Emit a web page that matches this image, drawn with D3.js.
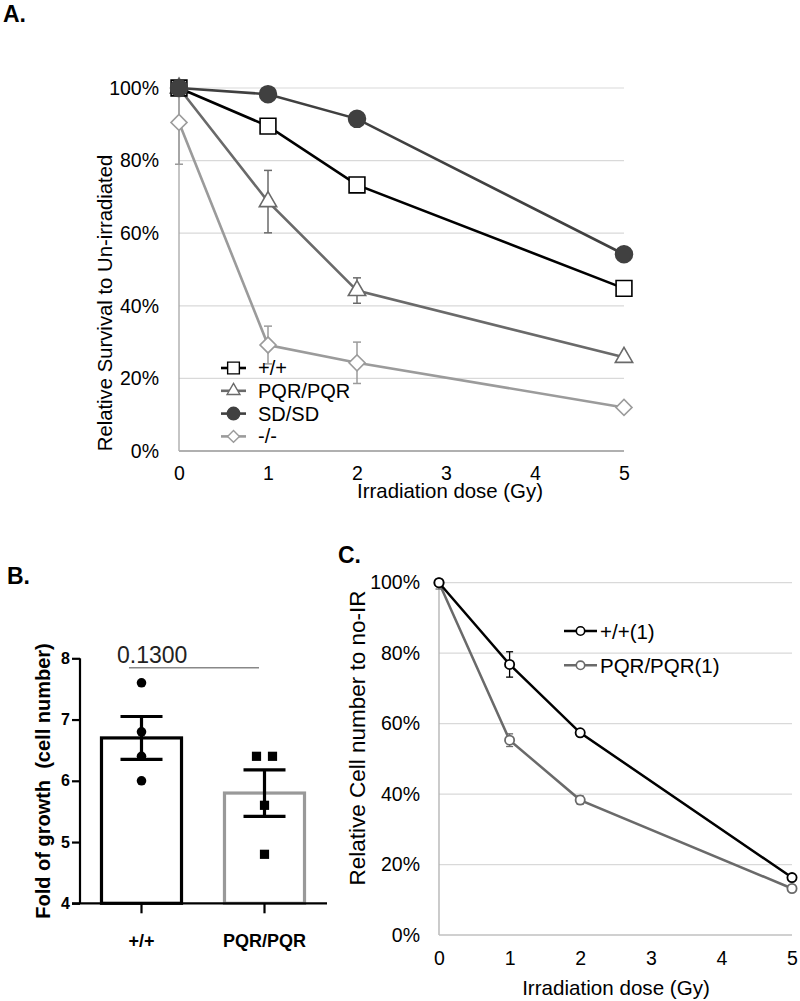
<!DOCTYPE html>
<html><head><meta charset="utf-8">
<script src="https://cdn.jsdelivr.net/npm/d3@7"></script>
<style>
html,body{margin:0;padding:0;background:#fff;}
svg{display:block;font-family:"Liberation Sans",Arial,sans-serif;}
</style></head>
<body>
<svg id="chart" width="800" height="1001"></svg>
<script>
// ---------- Panel A data ----------
const doses = [0, 1, 2, 5];
const doseTicks = [0, 1, 2, 3, 4, 5];
const pctTicks = [0, 20, 40, 60, 80, 100];
const seriesA = ["+/+", "PQR/PQR", "SD/SD", "-/-"];
const wtA = [100, 89.5, 73.3, 44.8];
const wtAErr = [0.5, 0.5, 0.5, 0.5];
const pqrA = [100, 68.7, 44.2, 25.8];
const pqrAErr = [0.5, 8.6, 3.5, 1.0];
const sdA = [100, 98.3, 91.5, 54.2];
const sdAErr = [0.5, 0.5, 0.5, 0.5];
const koA = [90.5, 29.2, 24.3, 12.0];
const koAErr = [11.5, 5.2, 5.7, 1.0];

// ---------- Panel B data ----------
const groupsB = ["+/+", "PQR/PQR"];
const meansB = [6.70, 5.80];
const semB = [0.35, 0.38];
const pointsWtB = [7.6, 6.8, 6.4, 6.0];
const pointsPqrB = [6.4, 6.4, 5.6, 4.8];
const ticksB = [4, 5, 6, 7, 8];
const pValueB = "0.1300";

// ---------- Panel C data ----------
const seriesC = ["+/+(1)", "PQR/PQR(1)"];
const wtC = [100, 76.8, 57.4, 16.3];
const wtCErr = [0.5, 3.6, 0.8, 0.5];
const pqrC = [100, 55.3, 38.3, 13.2];
const pqrCErr = [1.8, 1.8, 1.2, 0.5];

const svg = d3.select("#chart");
const FONT = '"Liberation Sans",Arial,sans-serif';

// Panel letters
[["A.", 3, 22], ["B.", 7, 584], ["C.", 338, 563]].forEach(([t, x, y]) => {
  svg.append("text").attr("x", x).attr("y", y).attr("font-size", 23)
    .attr("font-weight", "bold").text(t);
});

// ================= PANEL A =================
const xA = d3.scaleLinear().domain([0, 5]).range([179, 624]);
const yA = d3.scaleLinear().domain([0, 100]).range([451, 88]);
const gA = svg.append("g");

gA.append("g").selectAll("line").data(pctTicks.filter(d => d > 0)).join("line")
  .attr("x1", xA(0)).attr("x2", xA(5)).attr("y1", d => yA(d)).attr("y2", d => yA(d))
  .attr("stroke", "#d9d9d9").attr("stroke-width", 1.2);
gA.append("line").attr("x1", xA(0)).attr("x2", xA(0)).attr("y1", yA(0)).attr("y2", yA(100))
  .attr("stroke", "#a6a6a6").attr("stroke-width", 1.3);
gA.append("line").attr("x1", xA(0)).attr("x2", xA(5)).attr("y1", yA(0)).attr("y2", yA(0))
  .attr("stroke", "#b0b0b0").attr("stroke-width", 2);

const yAxA = gA.append("g").attr("transform", `translate(${159},0)`)
  .call(d3.axisLeft(yA).tickValues(pctTicks).tickSize(0).tickPadding(0).tickFormat(d => d + "%"));
yAxA.select(".domain").remove();
yAxA.selectAll("text").attr("font-size", 19.5).attr("font-family", FONT).attr("fill", "#000");

const xAxA = gA.append("g").attr("transform", `translate(0,${466})`)
  .call(d3.axisBottom(xA).tickValues(doseTicks).tickSize(0).tickPadding(0).tickFormat(d3.format("d")));
xAxA.select(".domain").remove();
xAxA.selectAll("text").attr("font-size", 19.5).attr("font-family", FONT).attr("fill", "#000");

gA.append("text").attr("x", 450).attr("y", 498).attr("text-anchor", "middle")
  .attr("font-size", 20.4).text("Irradiation dose (Gy)");
gA.append("text").attr("transform", `translate(112,303) rotate(-90)`).attr("text-anchor", "middle")
  .attr("font-size", 20.3).text("Relative Survival to Un-irradiated");

const symSquare = d3.symbol().type(d3.symbolSquare);
const symTri = d3.symbol().type(d3.symbolTriangle);
const symCirc = d3.symbol().type(d3.symbolCircle);

const defsA = [
  { name: seriesA[0], vals: wtA, err: wtAErr, color: "#000000", marker: "square", fill: "#fff", size: 250 },
  { name: seriesA[1], vals: pqrA, err: pqrAErr, color: "#6a6a6a", marker: "triangle", fill: "#fff", size: 130 },
  { name: seriesA[2], vals: sdA, err: sdAErr, color: "#404040", marker: "circle", fill: "#404040", size: 225 },
  { name: seriesA[3], vals: koA, err: koAErr, color: "#9b9b9b", marker: "diamond", fill: "#fff", size: 128 }
];

function markerPath(type, size) {
  if (type === "square" || type === "diamond") return symSquare.size(size)();
  if (type === "triangle") return symTri.size(size)();
  return symCirc.size(size)();
}

const lineA = d3.line().x((d, i) => xA(doses[i])).y(d => yA(d));
const orderA = [3, 1, 0, 2];
orderA.forEach(k => {
  const s = defsA[k];
  const g = gA.append("g");
  s.vals.forEach((v, i) => {
    const e = s.err[i];
    if (e <= 0) return;
    const x = xA(doses[i]);
    g.append("line").attr("x1", x).attr("x2", x).attr("y1", yA(v - e)).attr("y2", yA(Math.min(v + e, 100.5)))
      .attr("stroke", s.color).attr("stroke-width", 1.5);
    [v - e, v + e].forEach(yy => {
      if (yy > 100.5) return;
      g.append("line").attr("x1", x - 4).attr("x2", x + 4).attr("y1", yA(yy)).attr("y2", yA(yy))
        .attr("stroke", s.color).attr("stroke-width", 1.5);
    });
  });
  g.append("path").datum(s.vals).attr("d", lineA).attr("fill", "none")
    .attr("stroke", s.color).attr("stroke-width", 2.6);
  g.selectAll("path.m").data(s.vals).join("path").attr("class", "m")
    .attr("d", markerPath(s.marker, s.size))
    .attr("transform", (d, i) => `translate(${xA(doses[i])},${yA(d)})` + (s.marker === "diamond" ? " rotate(45)" : ""))
    .attr("fill", s.fill).attr("stroke", s.color).attr("stroke-width", 1.6);
});

const legA = gA.append("g");
defsA.forEach((s, i) => {
  const y = 368 + i * 22.8;
  legA.append("line").attr("x1", 221).attr("x2", 246).attr("y1", y).attr("y2", y)
    .attr("stroke", s.color).attr("stroke-width", 2.6);
  legA.append("path").attr("d", markerPath(s.marker, s.size * 0.55))
    .attr("transform", `translate(233.5,${y})` + (s.marker === "diamond" ? " rotate(45)" : ""))
    .attr("fill", s.fill).attr("stroke", s.color).attr("stroke-width", 1.4);
  legA.append("text").attr("x", 258).attr("y", y + 7).attr("font-size", 20).text(s.name);
});

// ================= PANEL B =================
const xB = d3.scaleBand().domain(groupsB).range([80, 326]).paddingInner(0.325).paddingOuter(0.1625);
const yB = d3.scaleLinear().domain([4, 8]).range([903.3, 658.3]);
const gB = svg.append("g");
const barColors = ["#000000", "#999999"];

gB.selectAll("rect.bar").data(groupsB).join("rect").attr("class", "bar")
  .attr("x", d => xB(d) + 1.5).attr("width", xB.bandwidth() - 3)
  .attr("y", (d, i) => yB(meansB[i])).attr("height", (d, i) => yB(4) - yB(meansB[i]))
  .attr("fill", "#fff").attr("stroke", (d, i) => barColors[i]).attr("stroke-width", 3.2);

const cx = d => xB(d) + xB.bandwidth() / 2;
gB.selectAll("circle.pt").data(pointsWtB).join("circle").attr("class", "pt")
  .attr("cx", cx(groupsB[0])).attr("cy", d => yB(d)).attr("r", 4.8).attr("fill", "#000");
const counts = {};
const spread = pointsPqrB.map(v => {
  const n = pointsPqrB.filter(w => w === v).length;
  counts[v] = (counts[v] || 0);
  const k = counts[v]++;
  return (k - (n - 1) / 2) * 16;
});
gB.selectAll("rect.pt").data(pointsPqrB).join("rect").attr("class", "pt")
  .attr("x", (d, i) => cx(groupsB[1]) + spread[i] - 4.6).attr("y", d => yB(d) - 4.6)
  .attr("width", 9.2).attr("height", 9.2).attr("fill", "#000");

groupsB.forEach((g, i) => {
  const x = cx(g);
  gB.append("line").attr("x1", x).attr("x2", x).attr("y1", yB(meansB[i] - semB[i])).attr("y2", yB(meansB[i] + semB[i]))
    .attr("stroke", "#000").attr("stroke-width", 3.2);
  [meansB[i] - semB[i], meansB[i] + semB[i]].forEach(v => {
    gB.append("line").attr("x1", x - 21).attr("x2", x + 21).attr("y1", yB(v)).attr("y2", yB(v))
      .attr("stroke", "#000").attr("stroke-width", 3.2);
  });
});

const yAxB = gB.append("g").attr("transform", "translate(80,0)")
  .call(d3.axisLeft(yB).tickValues(ticksB).tickSize(8).tickPadding(2).tickFormat(d3.format("d")));
yAxB.select(".domain").attr("stroke-width", 2.2).attr("d", `M0,${yB(8)}V${yB(4)}`);
yAxB.selectAll(".tick line").attr("stroke-width", 2.2);
yAxB.selectAll("text").attr("font-size", 16).attr("font-weight", "bold").attr("font-family", FONT);

gB.append("line").attr("x1", 72).attr("x2", 327).attr("y1", yB(4)).attr("y2", yB(4))
  .attr("stroke", "#000").attr("stroke-width", 2.2);
const xAxB = gB.append("g").attr("transform", `translate(0,${yB(4)})`)
  .call(d3.axisBottom(xB).tickSize(10).tickPadding(21));
xAxB.select(".domain").remove();
xAxB.selectAll(".tick line").attr("stroke-width", 2.2);
xAxB.selectAll("text").attr("font-size", 18).attr("font-weight", "bold").attr("font-family", FONT);

gB.append("text").attr("transform", "translate(50,781) rotate(-90)").attr("text-anchor", "middle")
  .attr("font-size", 20).attr("font-weight", "bold").style("white-space", "pre")
  .text("Fold of growth  (cell number)");

gB.append("line").attr("x1", 129).attr("x2", 259).attr("y1", 667.7).attr("y2", 667.7)
  .attr("stroke", "#888").attr("stroke-width", 1.6);
gB.append("text").attr("x", 117).attr("y", 663).attr("font-size", 23).attr("fill", "#222").text(pValueB);

// ================= PANEL C =================
const xC = d3.scaleLinear().domain([0, 5]).range([439, 792]);
const yC = d3.scaleLinear().domain([0, 100]).range([935, 582.7]);
const gC = svg.append("g");

gC.append("g").selectAll("line").data(pctTicks.filter(d => d > 0)).join("line")
  .attr("x1", xC(0)).attr("x2", xC(5)).attr("y1", d => yC(d)).attr("y2", d => yC(d))
  .attr("stroke", "#d9d9d9").attr("stroke-width", 1.2);
gC.append("line").attr("x1", xC(0)).attr("x2", xC(0)).attr("y1", yC(0)).attr("y2", yC(100))
  .attr("stroke", "#b0b0b0").attr("stroke-width", 1.3);
gC.append("line").attr("x1", xC(0)).attr("x2", xC(5)).attr("y1", yC(0)).attr("y2", yC(0))
  .attr("stroke", "#c0c0c0").attr("stroke-width", 1.3);

const yAxC = gC.append("g").attr("transform", "translate(420,0)")
  .call(d3.axisLeft(yC).tickValues(pctTicks).tickSize(0).tickPadding(0).tickFormat(d => d + "%"));
yAxC.select(".domain").remove();
yAxC.selectAll("text").attr("font-size", 19.5).attr("font-family", FONT).attr("fill", "#000");

const xAxC = gC.append("g").attr("transform", "translate(0,951)")
  .call(d3.axisBottom(xC).tickValues(doseTicks).tickSize(0).tickPadding(0).tickFormat(d3.format("d")));
xAxC.select(".domain").remove();
xAxC.selectAll("text").attr("font-size", 19.5).attr("font-family", FONT).attr("fill", "#000");

gC.append("text").attr("x", 616).attr("y", 995).attr("text-anchor", "middle")
  .attr("font-size", 20.6).text("Irradiation dose (Gy)");
gC.append("text").attr("transform", "translate(365,738) rotate(-90)").attr("text-anchor", "middle")
  .attr("font-size", 22.5).text("Relative Cell number to no-IR");

const defsC = [
  { name: seriesC[0], vals: wtC, err: wtCErr, color: "#000000" },
  { name: seriesC[1], vals: pqrC, err: pqrCErr, color: "#6a6a6a" }
];
const lineC = d3.line().x((d, i) => xC(doses[i])).y(d => yC(d));
[1, 0].forEach(k => {
  const s = defsC[k];
  const g = gC.append("g");
  s.vals.forEach((v, i) => {
    const e = s.err[i];
    const x = xC(doses[i]);
    g.append("line").attr("x1", x).attr("x2", x).attr("y1", yC(v - e)).attr("y2", yC(Math.min(v + e, 100)))
      .attr("stroke", s.color).attr("stroke-width", 1.3);
    [v - e, v + e].forEach(yy => {
      if (yy > 100.2) return;
      g.append("line").attr("x1", x - 3.5).attr("x2", x + 3.5).attr("y1", yC(yy)).attr("y2", yC(yy))
        .attr("stroke", s.color).attr("stroke-width", 1.3);
    });
  });
  g.append("path").datum(s.vals).attr("d", lineC).attr("fill", "none")
    .attr("stroke", s.color).attr("stroke-width", 2.5);
  g.selectAll("circle").data(s.vals).join("circle")
    .attr("cx", (d, i) => xC(doses[i])).attr("cy", d => yC(d)).attr("r", 4.6)
    .attr("fill", "#fff").attr("stroke", s.color).attr("stroke-width", 1.8);
});

const legC = gC.append("g");
defsC.forEach((s, i) => {
  const y = 631 + i * 34.3;
  legC.append("line").attr("x1", 564).attr("x2", 597).attr("y1", y).attr("y2", y)
    .attr("stroke", s.color).attr("stroke-width", 2.5);
  legC.append("circle").attr("cx", 580.5).attr("cy", y).attr("r", 4.2)
    .attr("fill", "#fff").attr("stroke", s.color).attr("stroke-width", 1.6);
  legC.append("text").attr("x", 600).attr("y", y + 7.5).attr("font-size", 20.5).text(s.name);
});
</script>
</body></html>
